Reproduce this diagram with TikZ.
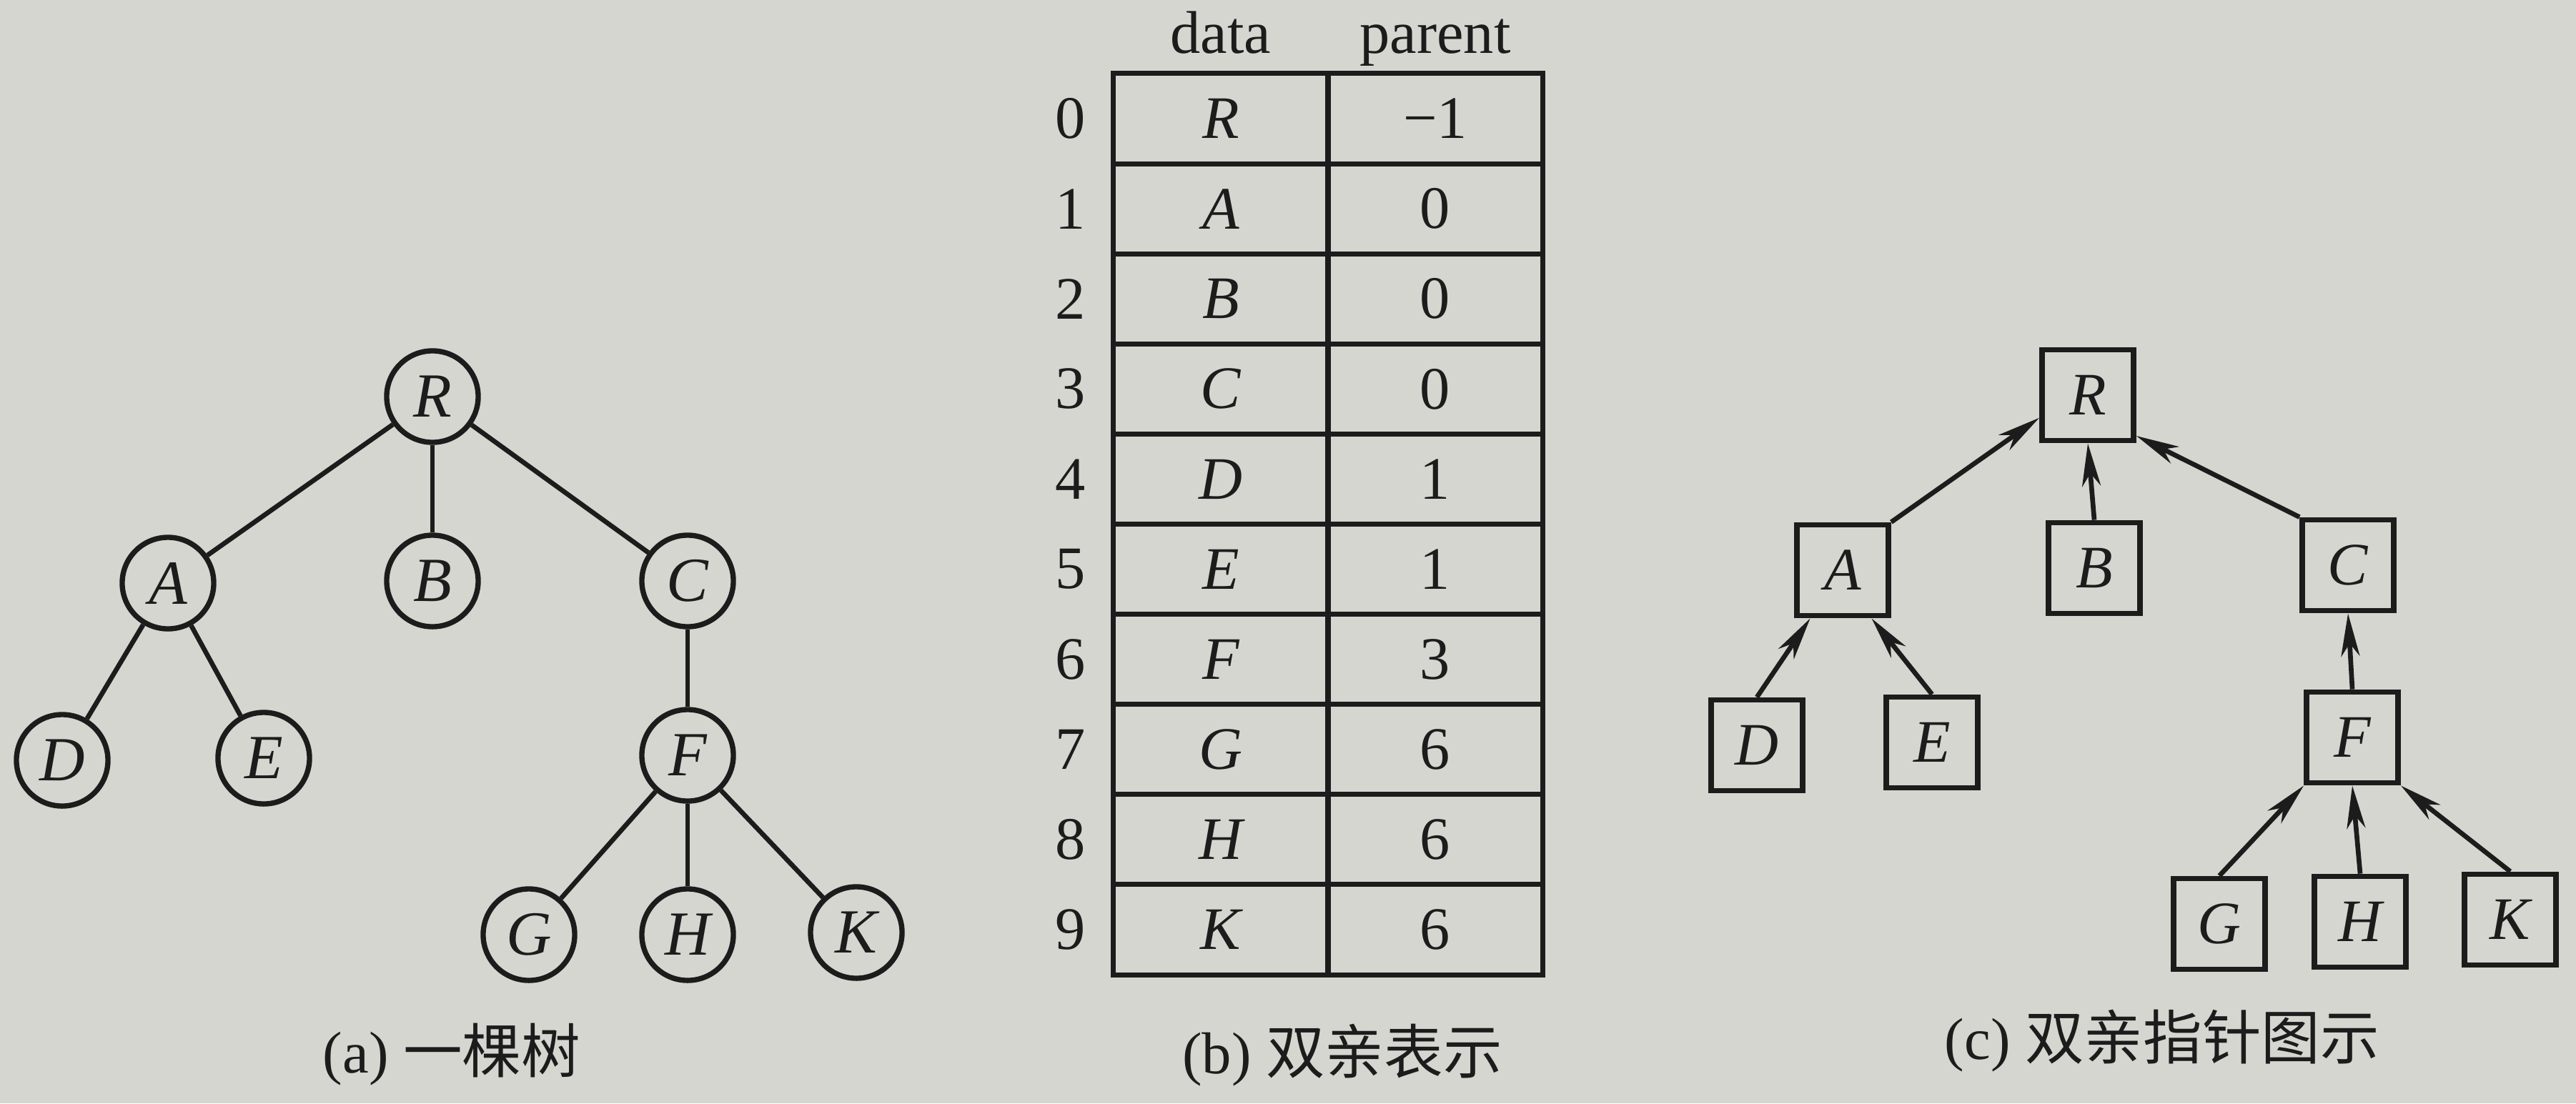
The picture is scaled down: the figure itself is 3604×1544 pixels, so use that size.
\documentclass[tikz,border=0pt]{standalone}
\usepackage{fontspec}
\setmainfont{Liberation Serif}
\newfontfamily\cjk{Noto Sans CJK SC}
\usetikzlibrary{arrows.meta,calc}
\definecolor{bg}{RGB}{214,214,209}
\definecolor{ink}{RGB}{28,28,28}
\begin{document}
\begin{tikzpicture}[x=0.01cm,y=-0.01cm,
  every node/.style={text=ink},
  tn/.style={circle,draw=ink,line width=2.1pt,minimum size=1.28cm,inner sep=0pt,font=\fontsize{25}{29}\selectfont\itshape},
  bn/.style={rectangle,draw=ink,line width=2.2pt,minimum width=1.28cm,minimum height=1.27cm,inner sep=0pt,font=\fontsize{24}{28}\selectfont\itshape},
  tline/.style={draw=ink,line width=1.9pt},
  parr/.style={draw=ink,line width=1.9pt,-{Stealth[length=6mm,width=2.6mm,inset=1.8mm]}},
  cell/.style={rectangle,draw=ink,line width=2pt,minimum width=3cm,minimum height=1.261cm,inner sep=0pt,font=\fontsize{24}{28}\selectfont},
  idx/.style={font=\fontsize{24}{28}\selectfont},
  hdr/.style={font=\fontsize{24}{28}\selectfont,anchor=base},
  captxt/.style={font=\fontsize{23.5}{28}\selectfont}]

\fill[bg] (0,0) rectangle (3604,1544);
\useasboundingbox (0,0) rectangle (3604,1544);

% (a) tree
\node[tn] (tR) at (605,555) {R};
\node[tn] (tA) at (235,816) {A};
\node[tn] (tB) at (605,813) {B};
\node[tn] (tC) at (962,813) {C};
\node[tn] (tD) at (87,1064) {D};
\node[tn] (tE) at (369,1061) {E};
\node[tn] (tF) at (962,1057) {F};
\node[tn] (tG) at (740,1308) {G};
\node[tn] (tH) at (962,1308) {H};
\node[tn] (tK) at (1198,1305) {K};
\foreach \a/\b in {tR/tA,tR/tB,tR/tC,tA/tD,tA/tE,tC/tF,tF/tG,tF/tH,tF/tK}
  \draw[tline] (\a) -- (\b);
\node[captxt] (capa) at (632,1476) {(a) {\cjk 一棵树}};

% (b) table
\node[hdr] (hd) at (1708,74) {data};
\node[hdr] (hp) at (2008,74) {parent};
\foreach \i/\l/\p in {0/R/−1,1/A/0,2/B/0,3/C/0,4/D/1,5/E/1,6/F/3,7/G/6,8/H/6,9/K/6}{
  \node[cell] (d\i) at (1708,{103+126.1*(\i+0.5)}) {\itshape\l};
  \node[cell] (p\i) at (2008,{103+126.1*(\i+0.5)}) {\p};
  \node[idx] (i\i) at (1498,{103+126.1*(\i+0.5)}) {\i};
}
\node[captxt] (capb) at (1878,1477) {(b) {\cjk 双亲表示}};

% (c) parent pointers
\node[bn] (cR) at (2921,553) {R};
\node[bn] (cA) at (2578,798) {A};
\node[bn] (cB) at (2930,795) {B};
\node[bn] (cC) at (3285,791) {C};
\node[bn] (cD) at (2458,1043) {D};
\node[bn] (cE) at (2703,1039) {E};
\node[bn] (cF) at (3291,1032) {F};
\node[bn] (cG) at (3105,1293) {G};
\node[bn] (cH) at (3302,1290) {H};
\node[bn] (cK) at (3512,1287) {K};
\draw[parr] (cA.north east) -- (cR.205);
\draw[parr] (cB.north) -- (cR.south);
\draw[parr] (cC.north west) -- (cR.-40);
\draw[parr] (cD.north) -- (cA.236);
\draw[parr] (cE.north) -- (cA.-59);
\draw[parr] (cF.north) -- (cC.south);
\draw[parr] (cG.north) -- (cF.south west);
\draw[parr] (cH.north) -- (cF.south);
\draw[parr] (cK.north) -- (cF.south east);
\node[captxt] (capc) at (3025,1457) {(c) {\cjk 双亲指针图示}};
\end{tikzpicture}
\end{document}
